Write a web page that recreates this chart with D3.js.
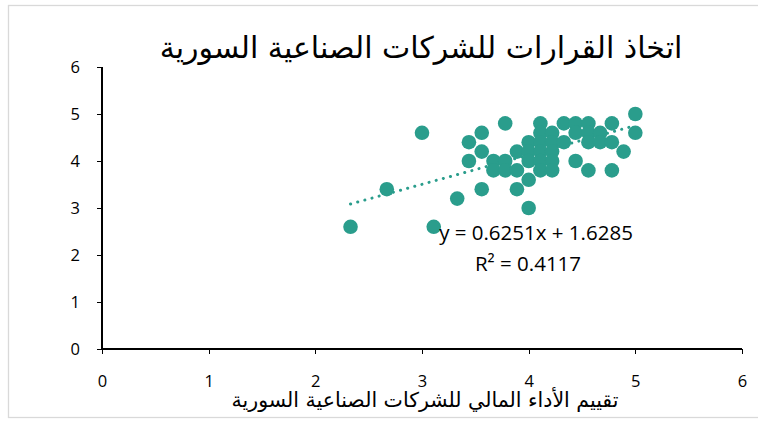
<!DOCTYPE html>
<meta charset="utf-8">
<script src="https://d3js.org/d3.v7.min.js"></script>
<style>
    body {
        margin: 0;
        padding: 0;
        background: #fff;
    }
    .axis path, .axis line {
        stroke: #000;
        stroke-width: 1.3;
        shape-rendering: crispEdges;
    }
    .axis text {
        fill: #000;
        font-family: "Open Sans", "DejaVu Sans", sans-serif;
        font-size: 16.5px;
    }
</style>
<body>
</body>
<script>

// x = financial performance, y = decision making
var xValues = [2.33, 2.67, 3.0, 3.11, 3.33, 3.44, 3.44, 3.56, 3.56, 3.56,
               3.67, 3.67, 3.78, 3.78, 3.78, 3.89, 3.89, 3.89, 4.0, 4.0,
               4.0, 4.0, 4.0, 4.11, 4.11, 4.11, 4.11, 4.11, 4.11, 4.22,
               4.22, 4.22, 4.22, 4.22, 4.33, 4.33, 4.44, 4.44, 4.44, 4.56,
               4.56, 4.56, 4.56, 4.67, 4.67, 4.78, 4.78, 4.78, 4.89, 5.0, 5.0];
var yValues = [2.6, 3.4, 4.6, 2.6, 3.2, 4.4, 4.0, 4.6, 4.2, 3.4,
               4.0, 3.8, 4.8, 4.0, 3.8, 4.2, 3.8, 3.4, 4.4, 4.2,
               4.0, 3.6, 3.0, 4.8, 4.6, 4.4, 4.2, 4.0, 3.8, 4.6,
               4.4, 4.2, 4.0, 3.8, 4.8, 4.4, 4.8, 4.6, 4.0, 4.8,
               4.6, 4.4, 3.8, 4.6, 4.4, 4.8, 4.4, 3.8, 4.2, 5.0, 4.6];
var xTicks = [0, 1, 2, 3, 4, 5, 6];
var yTicks = [0, 1, 2, 3, 4, 5, 6];
var slope = 0.6251, intercept = 1.6285, r2 = 0.4117;

var chartTitle = "اتخاذ القرارات للشركات الصناعية السورية";
var xTitle = "تقييم الأداء المالي للشركات الصناعية السورية";

var data = xValues.map(function (d, i) { return {x: d, y: yValues[i]}; });

var width = 758, height = 421;
var teal = "#2a9d8c";

var svg = d3.select("body").append("svg")
    .attr("width", width)
    .attr("height", height);

svg.append("rect")
    .attr("x", 8.5).attr("y", 5.5)
    .attr("width", 780).attr("height", 412)
    .attr("fill", "#fff")
    .attr("stroke", "#d9d9d9")
    .attr("stroke-width", 1.3);

var x = d3.scaleLinear().domain([0, 6]).range([102, 742]);
var y = d3.scaleLinear().domain([0, 6]).range([349, 67]);

svg.append("g")
    .attr("class", "x axis")
    .attr("transform", "translate(0," + y(0) + ")")
    .call(d3.axisBottom(x).tickValues(xTicks).tickFormat(d3.format("d"))
        .tickSize(5).tickPadding(21));

svg.append("g")
    .attr("class", "y axis")
    .attr("transform", "translate(" + x(0) + ",0)")
    .call(d3.axisLeft(y).tickValues(yTicks).tickFormat(d3.format("d"))
        .tickSize(5).tickPadding(17));

svg.selectAll(".axis .domain").attr("d", function () {
    return d3.select(this.parentNode).classed("x")
        ? "M" + x(0) + ",0H" + x(6)
        : "M0," + y(0) + "V" + y(6);
});

// trendline
var xExt = d3.extent(xValues);
svg.append("line")
    .attr("x1", x(xExt[0])).attr("y1", y(slope * xExt[0] + intercept))
    .attr("x2", x(xExt[1])).attr("y2", y(slope * xExt[1] + intercept))
    .attr("stroke", teal)
    .attr("stroke-width", 3)
    .attr("stroke-linecap", "round")
    .attr("stroke-dasharray", "0.1,7.3");

svg.append("g").selectAll("circle")
    .data(data)
    .enter().append("circle")
    .attr("cx", function (d) { return x(d.x); })
    .attr("cy", function (d) { return y(d.y); })
    .attr("r", 7.3)
    .attr("fill", teal);

svg.append("text")
    .attr("x", 536).attr("y", 240)
    .attr("text-anchor", "middle")
    .style("font-family", "'Open Sans', sans-serif")
    .style("font-size", "20.5px")
    .text("y = " + slope + "x + " + intercept);

svg.append("text")
    .attr("x", 528).attr("y", 271)
    .attr("text-anchor", "middle")
    .style("font-family", "'Open Sans', sans-serif")
    .style("font-size", "20.5px")
    .text("R² = " + r2);

svg.append("text")
    .attr("x", 421).attr("y", 58)
    .attr("text-anchor", "middle")
    .attr("direction", "rtl")
    .style("font-family", "'DejaVu Sans', sans-serif")
    .style("font-size", "30px")
    .text(chartTitle);

svg.append("text")
    .attr("x", 425).attr("y", 407)
    .attr("text-anchor", "middle")
    .attr("direction", "rtl")
    .style("font-family", "'DejaVu Sans', sans-serif")
    .style("font-size", "20.5px")
    .text(xTitle);

</script>
